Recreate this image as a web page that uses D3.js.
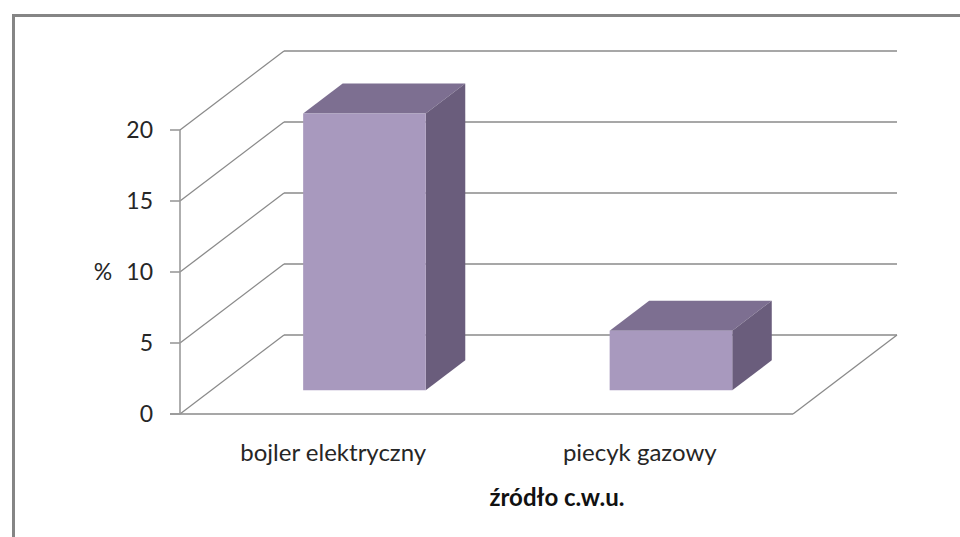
<!DOCTYPE html>
<html>
<head>
<meta charset="utf-8">
<script src="https://d3js.org/d3.v7.min.js"></script>
<style>
  body { margin: 0; background: #fff; }
  text { font-family: Lato, "Open Sans", sans-serif; fill: #262626; }
</style>
</head>
<body>
<svg id="chart" width="960" height="537"></svg>
<script>
var categories = ['bojler elektryczny', 'piecyk gazowy']
var values = [19.5, 4.2]
var yTicks = [0, 5, 10, 15, 20]
var yLabel = '%'
var xTitle = 'źródło c.w.u.'

var svg = d3.select('#chart')

// outer frame (only top and left edges visible)
svg.append('path')
    .attr('d', 'M13.5,537 L13.5,15.5 L960,15.5')
    .attr('fill', 'none')
    .attr('stroke', '#858585')
    .attr('stroke-width', 3)

var y = d3.scaleLinear().domain([0, 20]).range([414, 130])
var x = d3.scaleBand().domain(categories).range([180, 793]).paddingInner(0).paddingOuter(0)

// oblique depth offset of the chart box
var depthX = 104
var depthY = -79
// bar depth: front and back as fraction of the box depth
var barFront = 0.30
var barBack = 0.68
var barWidth = x.bandwidth() * 0.4

var grid = svg.append('g')
    .attr('fill', 'none')
    .attr('stroke', '#8a8a8a')
    .attr('stroke-width', 1.3)

// back wall gridlines
grid.selectAll('line.back')
    .data(yTicks)
    .enter()
    .append('line')
    .attr('class', 'back')
    .attr('x1', x.range()[0] + depthX)
    .attr('x2', x.range()[1] + depthX)
    .attr('y1', function (d) { return y(d) + depthY })
    .attr('y2', function (d) { return y(d) + depthY })

// side wall gridlines
grid.selectAll('line.side')
    .data(yTicks)
    .enter()
    .append('line')
    .attr('class', 'side')
    .attr('x1', x.range()[0])
    .attr('x2', x.range()[0] + depthX)
    .attr('y1', function (d) { return y(d) })
    .attr('y2', function (d) { return y(d) + depthY })

// floor right edge
grid.append('line')
    .attr('x1', x.range()[1])
    .attr('y1', y(0))
    .attr('x2', x.range()[1] + depthX)
    .attr('y2', y(0) + depthY)

// axes
var axes = svg.append('g')
    .attr('stroke', '#9a9a9a')
    .attr('stroke-width', 1.6)

axes.append('line')
    .attr('x1', 170).attr('x2', x.range()[1])
    .attr('y1', y(0)).attr('y2', y(0))
    .attr('stroke', '#8a8a8a')

axes.append('line')
    .attr('x1', x.range()[0]).attr('x2', x.range()[0])
    .attr('y1', y(0)).attr('y2', y(20))

axes.selectAll('line.tick')
    .data(yTicks)
    .enter()
    .append('line')
    .attr('class', 'tick')
    .attr('x1', 170).attr('x2', x.range()[0])
    .attr('y1', function (d) { return y(d) })
    .attr('y2', function (d) { return y(d) })

svg.selectAll('text.ytick')
    .data(yTicks)
    .enter()
    .append('text')
    .attr('class', 'ytick')
    .attr('x', 153)
    .attr('y', function (d) { return y(d) })
    .attr('dy', '0.36em')
    .attr('text-anchor', 'end')
    .attr('font-size', 23)
    .text(function (d) { return d })

svg.append('text')
    .attr('x', 103)
    .attr('y', y(10))
    .attr('dy', '0.36em')
    .attr('text-anchor', 'middle')
    .attr('font-size', 23)
    .text(yLabel)

// bars
var bars = svg.selectAll('g.bar')
    .data(categories.map(function (c, i) { return { cat: c, value: values[i] } }))
    .enter()
    .append('g')
    .attr('class', 'bar')

function faces(d) {
  var cx = x(d.cat) + x.bandwidth() / 2
  var fx = barFront * depthX, fy = barFront * depthY
  var bdx = (barBack - barFront) * depthX, bdy = (barBack - barFront) * depthY
  var x0 = cx - barWidth / 2 + fx
  var x1 = cx + barWidth / 2 + fx
  var yb = y(0) + fy
  var yt = y(d.value) + fy
  return {
    front: [[x0, yt], [x1, yt], [x1, yb], [x0, yb]],
    top: [[x0, yt], [x0 + bdx, yt + bdy], [x1 + bdx, yt + bdy], [x1, yt]],
    side: [[x1, yt], [x1 + bdx, yt + bdy], [x1 + bdx, yb + bdy], [x1, yb]]
  }
}

var line = d3.line()

bars.append('path')
    .attr('d', function (d) { return line(faces(d).top) + 'Z' })
    .attr('fill', '#7d6f91')

bars.append('path')
    .attr('d', function (d) { return line(faces(d).side) + 'Z' })
    .attr('fill', '#6a5d7c')

bars.append('path')
    .attr('d', function (d) { return line(faces(d).front) + 'Z' })
    .attr('fill', '#a899be')

// category labels
svg.selectAll('text.xlab')
    .data(categories)
    .enter()
    .append('text')
    .attr('class', 'xlab')
    .attr('x', function (d) { return x(d) + x.bandwidth() / 2 })
    .attr('y', 452)
    .attr('dy', '0.36em')
    .attr('text-anchor', 'middle')
    .attr('font-size', 24)
    .text(function (d) { return d })

svg.append('text')
    .attr('x', 557)
    .attr('y', 497)
    .attr('dy', '0.36em')
    .attr('text-anchor', 'middle')
    .attr('font-size', 24)
    .attr('font-weight', 'bold')
    .style('fill', '#111')
    .text(xTitle)
</script>
</body>
</html>
